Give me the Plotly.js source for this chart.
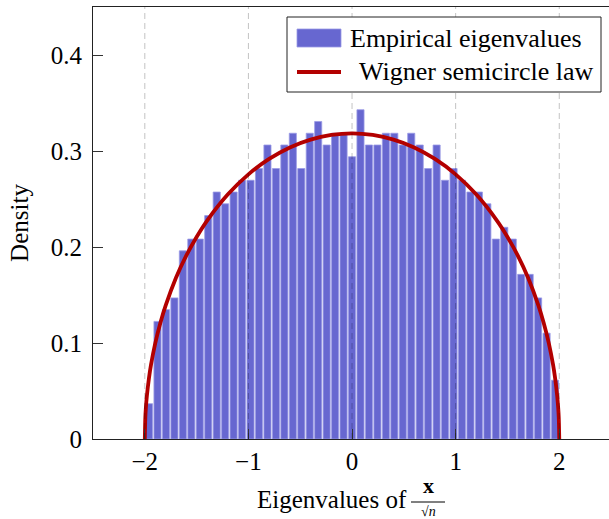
<!DOCTYPE html>
<html>
<head>
<meta charset="utf-8">
<script src="https://cdn.plot.ly/plotly-3.0.1.min.js"></script>
<style>
  html, body { margin: 0; padding: 0; background: #ffffff; }
  #chart { width: 609px; height: 519px; }
</style>
</head>
<body>
<div id="chart"></div>
<script>
// ---- data ----
// histogram counts per bin (49 equal bins between -2 and 2), sample of 1000 eigenvalues
const binStart = -2;
const binEnd = 2;
const sampleSize = 1000;
const binCounts = [3, 10, 11, 12, 16, 17, 17, 19, 21, 20,
                   21, 22, 22, 23, 25, 23, 25, 26, 23,
                   26, 27, 25, 26, 26, 24, 28,
                   25, 25, 26, 26, 25, 26, 25, 23, 25, 22, 23, 22, 21,
                   21, 20, 17, 18, 17, 14, 14, 12, 9, 5];
// Wigner semicircle curve points
const semicircleX = [-2, -1.995, -1.99, -1.98, -1.96, -1.94, -1.9, -1.85, -1.8, -1.7, -1.6, -1.5, -1.4, -1.2, -1.0, -0.8, -0.6, -0.4, -0.2,
                     0, 0.2, 0.4, 0.6, 0.8, 1.0, 1.2, 1.4, 1.5, 1.6, 1.7, 1.8, 1.85, 1.9, 1.94, 1.96, 1.98, 1.99, 1.995, 2];
const semicircleY = [0, 0.0225, 0.0318, 0.0449, 0.0633, 0.0774, 0.0994, 0.1209, 0.1387, 0.1677, 0.1910, 0.2105, 0.2273, 0.2546, 0.2757, 0.2917, 0.3037, 0.3119, 0.3167,
                     0.3183, 0.3167, 0.3119, 0.3037, 0.2917, 0.2757, 0.2546, 0.2273, 0.2105, 0.1910, 0.1677, 0.1387, 0.1209, 0.0994, 0.0774, 0.0633, 0.0449, 0.0318, 0.0225, 0];
const xTickVals = [-2, -1, 0, 1, 2];
const yTickVals = [0, 0.1, 0.2, 0.3, 0.4];
const seriesNames = ["Empirical eigenvalues", "Wigner semicircle law"];
const xTitle = "Eigenvalues of";
const fracNum = "<b>x</b>";
const fracDen = "\u221A<i>n</i>";
const yTitle = "Density";

// ---- derived ----
const binWidth = (binEnd - binStart) / binCounts.length;
const binCenters = binCounts.map((c, i) => binStart + (i + 0.5) * binWidth);
const densities = binCounts.map(c => c / (sampleSize * binWidth));

const FONT = "Liberation Serif, Times New Roman, serif";
const barColor = "#6767d0";
const lineColor = "#b30000";

const traces = [
  {
    type: "bar",
    x: binCenters,
    y: densities,
    name: seriesNames[0],
    marker: { color: barColor, line: { color: "#9a9ae6", width: 0.8 } },
    hoverinfo: "skip"
  },
  {
    type: "scatter",
    mode: "lines",
    x: semicircleX,
    y: semicircleY,
    name: seriesNames[1],
    line: { color: lineColor, width: 3.8, shape: "spline", smoothing: 0.8 },
    hoverinfo: "skip"
  }
];

// paper coordinate helpers for plot area (93..609, 7..439)
const L = 93, R = 609, T = 7, B = 439;
const px = X => (X - L) / (R - L);
const py = Y => (B - Y) / (B - T);

const shapes = xTickVals.map(v => ({
  type: "line", xref: "x", yref: "paper", x0: v, x1: v, y0: 0, y1: 1,
  line: { color: "rgba(0,0,0,0.24)", width: 1, dash: "6px,4px" }, layer: "above"
}));
// legend box
shapes.push({ type: "rect", xref: "paper", yref: "paper", x0: px(287), x1: px(601), y0: py(92), y1: py(17),
  line: { color: "#222", width: 1 }, fillcolor: "#ffffff", layer: "above" });
shapes.push({ type: "rect", xref: "paper", yref: "paper", x0: px(297), x1: px(341), y0: py(47), y1: py(29),
  line: { color: "#9a9ae6", width: 0.8 }, fillcolor: barColor, layer: "above" });
shapes.push({ type: "line", xref: "paper", yref: "paper", x0: px(297), x1: px(341), y0: py(72), y1: py(72),
  line: { color: lineColor, width: 3.8 }, layer: "above" });
// fraction bar
shapes.push({ type: "line", xref: "paper", yref: "paper", x0: px(411), x1: px(445), y0: py(502), y1: py(502),
  line: { color: "#000", width: 1 } });

const annotations = [
  { xref: "paper", yref: "paper", x: px(348), y: py(38), xanchor: "left", yanchor: "middle", showarrow: false,
    text: seriesNames[0], font: { family: FONT, size: 26, color: "#000" } },
  { xref: "paper", yref: "paper", x: px(357), y: py(71), xanchor: "left", yanchor: "middle", showarrow: false,
    text: seriesNames[1], font: { family: FONT, size: 26, color: "#000" } },
  { xref: "paper", yref: "paper", x: px(409), y: py(499), xanchor: "right", yanchor: "middle", showarrow: false,
    text: xTitle, font: { family: FONT, size: 25, color: "#000" } },
  { xref: "paper", yref: "paper", x: px(428), y: py(500), xanchor: "center", yanchor: "bottom", showarrow: false,
    text: fracNum, font: { family: FONT, size: 22, color: "#000" } },
  { xref: "paper", yref: "paper", x: px(428), y: py(502), xanchor: "center", yanchor: "top", showarrow: false,
    text: fracDen, font: { family: FONT, size: 14, color: "#000" } }
];

const layout = {
  width: 609,
  height: 519,
  margin: { l: L, r: 609 - R, t: T, b: 519 - B, pad: 0 },
  paper_bgcolor: "#ffffff",
  plot_bgcolor: "#ffffff",
  showlegend: false,
  bargap: 0.16,
  font: { family: FONT, size: 25, color: "#000" },
  xaxis: {
    range: [-2.5, 2.48],
    tickvals: xTickVals,
    ticks: "inside", ticklen: 10, tickwidth: 1, tickcolor: "#333",
    showline: true, linecolor: "#222", linewidth: 1, mirror: true,
    showgrid: false, zeroline: false,
    tickfont: { family: FONT, size: 25, color: "#000" },
    ticklabelstandoff: 0,
    fixedrange: true
  },
  yaxis: {
    range: [0, 0.45],
    tickvals: yTickVals,
    ticks: "inside", ticklen: 10, tickwidth: 1, tickcolor: "#333",
    showline: true, linecolor: "#222", linewidth: 1, mirror: true,
    showgrid: false, zeroline: false,
    tickfont: { family: FONT, size: 25, color: "#000" },
    ticklabelstandoff: 5,
    title: { text: yTitle, font: { family: FONT, size: 25, color: "#000" }, standoff: 15 },
    automargin: false,
    fixedrange: true
  },
  shapes: shapes,
  annotations: annotations
};

Plotly.newPlot("chart", traces, layout, { displayModeBar: false, staticPlot: true });
</script>
</body>
</html>
